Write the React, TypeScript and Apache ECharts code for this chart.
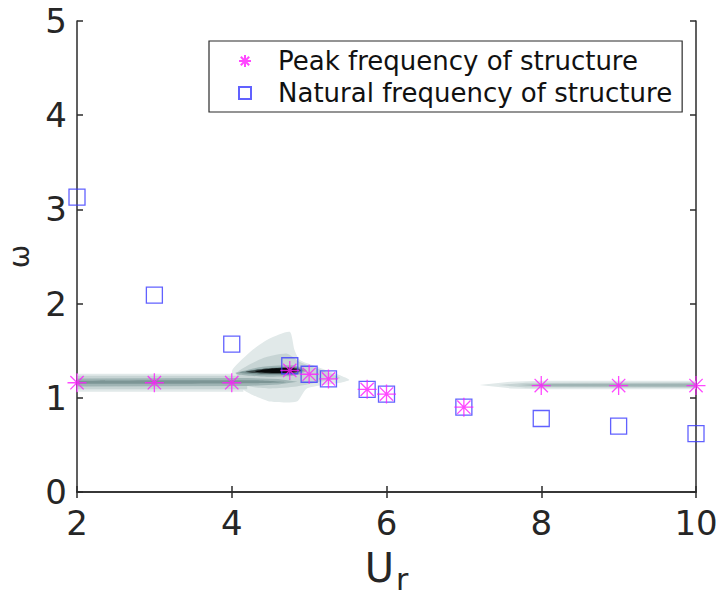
import React, { useEffect, useRef } from "react";
import * as echarts from "echarts";

const ur = [2, 3, 4, 4.75, 5, 5.25, 5.75, 6, 7, 8, 9, 10];
const peakFreq = [1.16, 1.16, 1.16, 1.29, 1.25, 1.2, 1.09, 1.04, 0.9, 1.13, 1.13, 1.13];
const naturalUr = [2, 3, 4, 4.75, 5, 5.25, 5.75, 6, 7, 8, 9, 10];
const naturalFreq = [3.13, 2.09, 1.57, 1.34, 1.25, 1.2, 1.09, 1.04, 0.9, 0.78, 0.7, 0.62];
const xTicks = [2, 4, 6, 8, 10];
const yTicks = [0, 1, 2, 3, 4, 5];

// Contour polygons of spectral density (data coordinates), drawn light to dark
const contourLevel = [0, 0, 0, 1, 1, 1, 2, 2, 2, 3, 3, 4, 5];
const contourSmooth = [0, 0.2, 0, 0, 0.2, 0, 0, 0.2, 0, 0.2, 0.2, 0.25, 0.25];
const contourPolys: number[][][] = [
  // left band, light
  [[2, 1.065], [4.15, 1.065], [4.15, 1.255], [2, 1.255]],
  // fan, light
  [[4.01, 1.2], [4.01, 1.3], [4.27, 1.51], [4.49, 1.63], [4.75, 1.7], [4.81, 1.51], [4.88, 1.4], [5.1, 1.33], [5.4, 1.24], [5.52, 1.19], [5.4, 1.16], [4.97, 1.1], [4.84, 0.96], [4.49, 0.96], [4.27, 1.03], [4.1, 1.11]],
  // right band, light
  [[7.2, 1.135], [7.6, 1.1], [8, 1.09], [10, 1.09], [10, 1.18], [8, 1.18], [7.6, 1.17]],
  // left band, mid
  [[2, 1.09], [4.2, 1.09], [4.2, 1.235], [2, 1.235]],
  // fan, mid
  [[4.06, 1.26], [4.4, 1.42], [4.71, 1.47], [4.88, 1.38], [5.14, 1.3], [5.4, 1.21], [5.14, 1.17], [4.84, 1.12], [4.49, 1.1], [4.19, 1.13]],
  // right band, mid
  [[7.45, 1.135], [7.8, 1.11], [10, 1.105], [10, 1.165], [7.8, 1.16]],
  // left band, dark teal (continues under the fan)
  [[2, 1.12], [4.2, 1.125], [4.6, 1.14], [4.85, 1.17], [4.6, 1.2], [4.2, 1.21], [2, 1.205]],
  // fan upper streak, dark teal
  [[4.05, 1.265], [4.4, 1.33], [4.8, 1.345], [4.97, 1.29], [4.8, 1.235], [4.4, 1.225], [4.1, 1.245]],
  // right band, dark teal
  [[7.7, 1.135], [8.1, 1.12], [10, 1.118], [10, 1.152], [8.1, 1.15]],
  // left band, center line
  [[2, 1.15], [4.3, 1.155], [4.7, 1.165], [4.3, 1.185], [2, 1.18]],
  // fan darker
  [[4.1, 1.27], [4.45, 1.315], [4.82, 1.33], [4.93, 1.29], [4.78, 1.25], [4.4, 1.245]],
  // fan darkest
  [[4.18, 1.275], [4.45, 1.31], [4.8, 1.322], [4.9, 1.29], [4.75, 1.258], [4.4, 1.258]],
  // fan black core
  [[4.3, 1.28], [4.5, 1.308], [4.78, 1.315], [4.86, 1.29], [4.7, 1.265], [4.45, 1.266]],
];
const levelColors = ["#e1e9e9", "#c7d4d4", "#9fb4b4", "#7c9595", "#3a4848", "#060909"];

const STAR = "path://M10,0L10,20M0,10L20,10M3,3L17,17M3,17L17,3";

export default function App() {
  const ref = useRef<HTMLDivElement>(null);
  useEffect(() => {
    if (!ref.current) return;
    const chart = echarts.init(ref.current, null, { renderer: "svg" });
    const axisColor = "#2b2b2b";
    const font = "DejaVu Sans";
    const tickStyle = { show: true, inside: true, length: 6, lineStyle: { color: axisColor, width: 1.5 } };
    const lineStyle = { show: true, lineStyle: { color: axisColor, width: 1.5 } };
    chart.setOption({
      animation: false,
      backgroundColor: "#ffffff",
      grid: { left: 77, right: 24, top: 21, bottom: 111, show: false, containLabel: false, outerBoundsMode: "none" },
      legend: {
        orient: "vertical",
        left: 209,
        top: 41,
        width: 470,
        padding: [7, 10, 6, 29],
        itemGap: 6,
        itemWidth: 12,
        itemHeight: 12,
        borderColor: axisColor,
        borderWidth: 1.2,
        backgroundColor: "#ffffff",
        textStyle: { fontFamily: font, fontSize: 26, color: "#111", padding: [0, 0, 0, 22] },
        data: ["Peak frequency of structure", "Natural frequency of structure"],
      },
      xAxis: [
        {
          type: "value",
          min: 2,
          max: 10,
          interval: 2,
          name: "{u|U}{r|r}",
          nameLocation: "middle",
          nameGap: 50,
          nameTextStyle: {
            rich: {
              u: { fontFamily: font, fontSize: 40, color: "#262626" },
              r: { fontFamily: font, fontSize: 30, color: "#262626", padding: [22, 0, 0, 2] },
            },
          },
          axisLine: lineStyle,
          axisTick: tickStyle,
          axisLabel: { fontFamily: font, fontSize: 34, color: "#262626", margin: 14 },
          splitLine: { show: false },
        },
        {
          type: "value",
          position: "top",
          min: 2,
          max: 10,
          interval: 2,
          axisLine: lineStyle,
          axisTick: tickStyle,
          axisLabel: { show: false },
          splitLine: { show: false },
        },
      ],
      yAxis: [
        {
          type: "value",
          min: 0,
          max: 5,
          interval: 1,
          name: "ω",
          nameLocation: "middle",
          nameRotate: 90,
          nameGap: 44,
          nameTextStyle: { fontFamily: font, fontSize: 28, color: "#262626" },
          axisLine: lineStyle,
          axisTick: tickStyle,
          axisLabel: { fontFamily: font, fontSize: 34, color: "#262626", margin: 10 },
          splitLine: { show: false },
        },
        {
          type: "value",
          position: "right",
          min: 0,
          max: 5,
          interval: 1,
          axisLine: lineStyle,
          axisTick: tickStyle,
          axisLabel: { show: false },
          splitLine: { show: false },
        },
      ],
      series: [
        {
          type: "custom",
          name: "contour",
          silent: true,
          clip: true,
          data: contourPolys.map((_, i) => [i]),
          renderItem: (_params: any, api: any) => {
            const idx = api.value(0);
            const pts = contourPolys[idx].map((p) => api.coord(p));
            return {
              type: "polygon",
              shape: { points: pts, smooth: contourSmooth[idx] },
              style: { fill: levelColors[contourLevel[idx]] },
            };
          },
          z: 1,
        },
        {
          type: "scatter",
          name: "Natural frequency of structure",
          data: naturalUr.map((x, i) => [x, naturalFreq[i]]),
          symbol: "rect",
          symbolSize: 16,
          itemStyle: { color: "transparent", borderColor: "#3a3aff", borderWidth: 1.3 },
          z: 3,
        },
        {
          type: "scatter",
          name: "Peak frequency of structure",
          data: ur.map((x, i) => [x, peakFreq[i]]),
          symbol: STAR,
          symbolSize: 19,
          itemStyle: { color: "transparent", borderColor: "#ff1aff", borderWidth: 1.3 },
          z: 4,
        },
      ],
    });
    return () => chart.dispose();
  }, []);
  return <div ref={ref} style={{ position: "absolute", left: 0, top: 0, width: 720, height: 603 }} />;
}
